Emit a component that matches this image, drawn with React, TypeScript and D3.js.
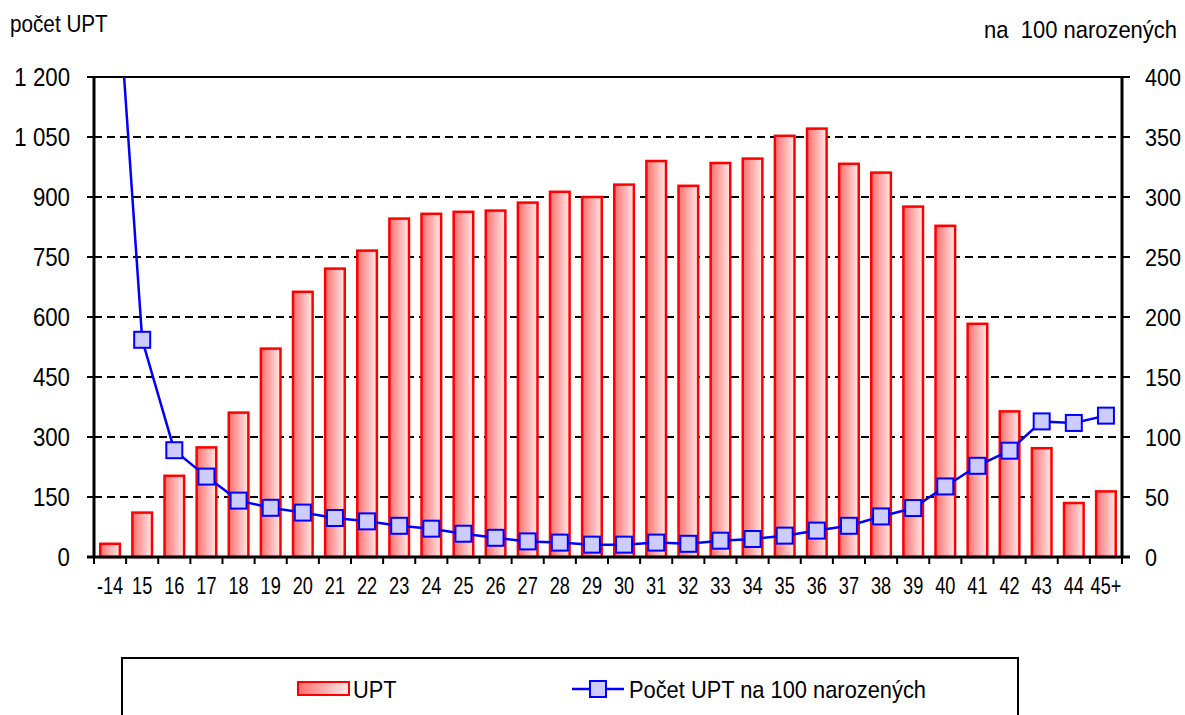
import React from "react";
import * as d3 from "d3";

const categories = ["-14","15","16","17","18","19","20","21","22","23","24","25","26","27","28","29","30","31","32","33","34","35","36","37","38","39","40","41","42","43","44","45+"];
const upt = [33,111,203,274,361,521,663,721,766,846,858,863,866,886,913,900,931,990,928,985,996,1053,1071,983,961,876,828,583,364,272,135,164];
const perHundred = [570,181,89,67,47,41,37,32.5,29.7,26,23.6,19.4,16,13,12,10.3,10.3,12,11,13.6,15,17.8,22,26,33.8,40.8,58.8,76,88.6,113,111.7,117.8];
const leftTicks = [0,150,300,450,600,750,900,1050,1200];
const rightTicks = [0,50,100,150,200,250,300,350,400];
const leftTitle = "počet UPT";
const rightTitle = "na  100 narozených";
const legendBar = "UPT";
const legendLine = "Počet UPT na 100 narozených";

const FONT = "'Liberation Sans', Arial, sans-serif";

function T({ x, y, sx = 1, size, anchor = "start", children }: any) {
  return (
    <text transform={`translate(${x},${y}) scale(${sx},1)`} fontSize={size} fontFamily={FONT} textAnchor={anchor} fill="#000" style={{ whiteSpace: "pre" }}>
      {children}
    </text>
  );
}

export default function App() {
  const W = 1185, H = 715;
  const L = 94, R = 1122, TOP = 77, B = 557;
  const x = d3.scaleBand<string>().domain(categories).range([L, R]).paddingInner(0.39).paddingOuter(0.195);
  const yL = d3.scaleLinear().domain([0, 1200]).range([B, TOP]);
  const yR = d3.scaleLinear().domain([0, 400]).range([B, TOP]);
  const step = x.step();
  const cx = (c: string) => (x(c) as number) + x.bandwidth() / 2;
  const pts: [number, number][] = categories.map((c, i) => [cx(c), yR(perHundred[i])]);
  const line = d3.line<[number, number]>().x(d => d[0]).y(d => d[1])(pts) as string;
  const ms = 16;
  const bounds = categories.map((_, i) => L + i * step).concat([R]);

  return (
    <svg width={W} height={H} style={{ position: "absolute", left: 0, top: 0 }}>
      <defs>
        <linearGradient id="barGrad" x1="0" x2="1" y1="0" y2="0">
          <stop offset="0" stopColor="#ff6e6e" />
          <stop offset="1" stopColor="#ffeaea" />
        </linearGradient>
        <clipPath id="plotClip">
          <rect x={L} y={TOP} width={R - L} height={B - TOP + 20} />
        </clipPath>
      </defs>
      <rect x={0} y={0} width={W} height={H} fill="#fff" />
      {leftTicks.filter(t => t > 0 && t < 1200).map(t => (
        <line key={t} x1={L} x2={R} y1={yL(t)} y2={yL(t)} stroke="#000" strokeWidth={2} strokeDasharray="8,5" />
      ))}
      {categories.map((c, i) => (
        <rect key={c} x={x(c)} y={yL(upt[i])} width={x.bandwidth()} height={B - yL(upt[i])}
          fill="url(#barGrad)" stroke="#ff0000" strokeWidth={2.5} />
      ))}
      <line x1={L - 7} x2={R + 8} y1={TOP} y2={TOP} stroke="#000" strokeWidth={2} />
      <line x1={L} x2={L} y1={TOP} y2={B} stroke="#000" strokeWidth={3} />
      <line x1={R} x2={R} y1={TOP} y2={B} stroke="#000" strokeWidth={3} />
      <line x1={L - 7} x2={R + 8} y1={B} y2={B} stroke="#000" strokeWidth={3} />
      {leftTicks.map(t => (
        <line key={"lt" + t} x1={L - 7} x2={L} y1={yL(t)} y2={yL(t)} stroke="#000" strokeWidth={2} />
      ))}
      {rightTicks.map(t => (
        <line key={"rt" + t} x1={R} x2={R + 8} y1={yR(t)} y2={yR(t)} stroke="#000" strokeWidth={2} />
      ))}
      {bounds.map((bx, i) => (
        <line key={"bt" + i} x1={bx} x2={bx} y1={B} y2={B + 7} stroke="#000" strokeWidth={2} />
      ))}
      <g clipPath="url(#plotClip)">
        <path d={line} fill="none" stroke="#0000ff" strokeWidth={2.5} />
        {pts.map((p, i) => (
          <rect key={i} x={p[0] - ms / 2} y={p[1] - ms / 2} width={ms} height={ms} fill="#ccccff" stroke="#0000ff" strokeWidth={2} />
        ))}
      </g>
      {leftTicks.map(t => (
        <T key={"ll" + t} x={70} y={yL(t) + 9} size={25} sx={0.89} anchor="end">{d3.format(",")(t).replace(",", " ")}</T>
      ))}
      {rightTicks.map(t => (
        <T key={"rl" + t} x={1145} y={yR(t) + 9} size={24} sx={0.9}>{String(t)}</T>
      ))}
      {categories.map(c => (
        <T key={"cl" + c} x={cx(c)} y={594} size={23} sx={0.79} anchor="middle">{c}</T>
      ))}
      <T x={10} y={32} size={23} sx={0.9}>{leftTitle}</T>
      <T x={1177} y={38} size={24} sx={0.915} anchor="end">{rightTitle}</T>
      <rect x={122} y={658} width={896} height={70} fill="#fff" stroke="#000" strokeWidth={2} />
      <rect x={298} y={682} width={51} height={13} fill="url(#barGrad)" stroke="#ff0000" strokeWidth={2} />
      <T x={353} y={698} size={24} sx={0.91}>{legendBar}</T>
      <line x1={572} x2={624} y1={689} y2={689} stroke="#0000ff" strokeWidth={2.5} />
      <rect x={590} y={681} width={16} height={16} fill="#ccccff" stroke="#0000ff" strokeWidth={2} />
      <T x={629} y={698} size={24} sx={0.91}>{legendLine}</T>
    </svg>
  );
}
